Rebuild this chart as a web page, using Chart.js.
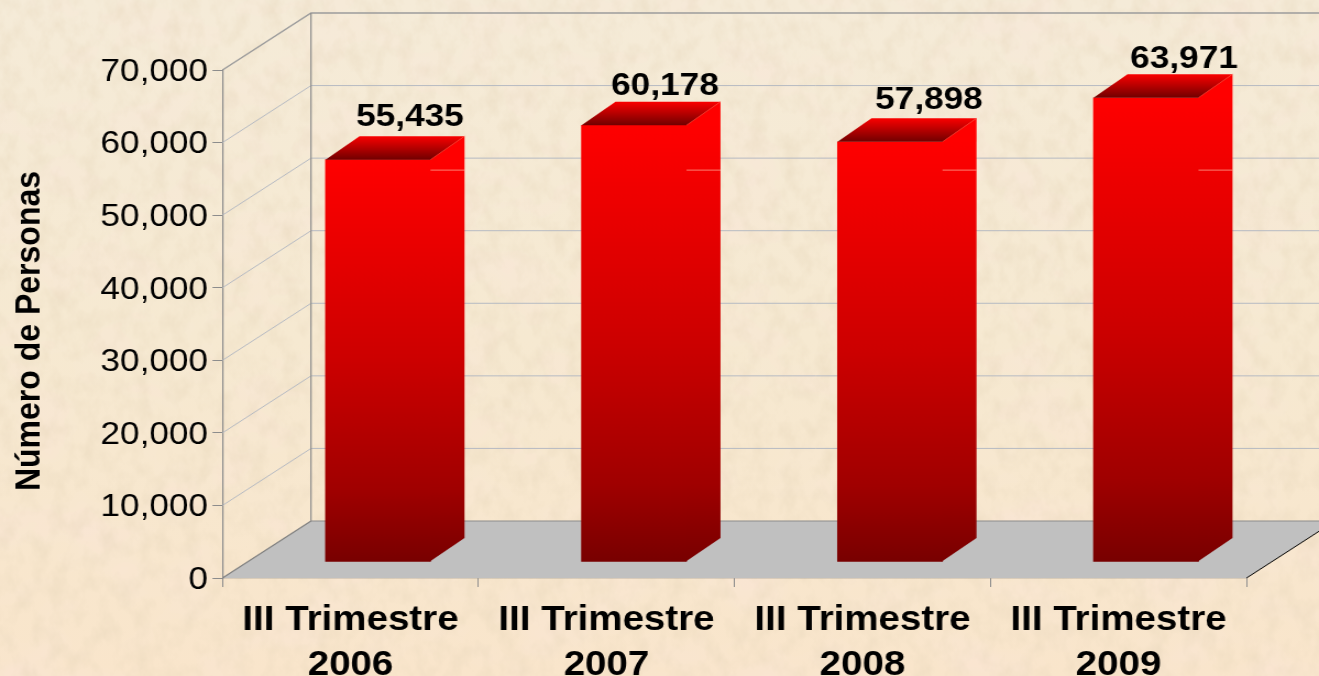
<!DOCTYPE html>
<html>
<head>
<meta charset="utf-8">
<title>Número de Personas</title>
<script src="https://cdn.jsdelivr.net/npm/chart.js@4"></script>
<style>
  html, body { margin: 0; padding: 0; width: 1319px; height: 676px; overflow: hidden; }
  /* the source picture is a stretched slide, so the whole canvas is stretched too */
  #chart { position: absolute; left: 0; top: 0; transform-origin: 0 0; transform: scaleX(1.10008); }
</style>
</head>
<body>
<canvas id="chart" width="1199" height="676"></canvas>
<script>
const categories = [['III Trimestre', '2006'], ['III Trimestre', '2007'], ['III Trimestre', '2008'], ['III Trimestre', '2009']]
const personas = [55435, 60178, 57898, 63971]
const yTicks = [0, 10000, 20000, 30000, 40000, 50000, 60000, 70000]

const STRETCH = 1319 / 1199
const px = v => v / STRETCH // screen px to canvas px, x direction only
const FONT = '"Liberation Sans", Arial, sans-serif'

// 3d offsets
const wall = { dx: px(88.5), dy: 57 }
const barShift = { dx: px(27.5), dy: 16 }
const barDepth = { dx: px(34), dy: 23.5 }
const labelNudge = [
  { dx: px(32), dy: 10 },
  { dx: px(31), dy: 7 },
  { dx: px(39), dy: 9 },
  { dx: px(38), dy: 6 }
]

// paper background
const paper = `<svg xmlns="http://www.w3.org/2000/svg" width="1319" height="676">
<defs><linearGradient id="g" x1="0" y1="0" x2="0" y2="1"><stop offset="0" stop-color="#f5ebd8"/><stop offset=".5" stop-color="#f6e9d1"/><stop offset="1" stop-color="#f9e5cb"/></linearGradient>
<filter id="n" x="0" y="0" width="100%" height="100%"><feTurbulence type="fractalNoise" baseFrequency=".06 .045" numOctaves="4" seed="7"/><feColorMatrix values="0 0 0 0 .78  0 0 0 0 .66  0 0 0 0 .48  .8 0 0 0 -.32"/></filter>
<filter id="p" x="0" y="0" width="100%" height="100%"><feTurbulence type="fractalNoise" baseFrequency=".014 .02" numOctaves="3" seed="21"/><feColorMatrix values="0 0 0 0 .96  0 0 0 0 .78  0 0 0 0 .7  0 1 0 0 -.46"/></filter></defs>
<rect width="1319" height="676" fill="url(#g)"/><rect width="1319" height="676" filter="url(#p)"/><rect width="1319" height="676" filter="url(#n)"/></svg>`
document.body.style.background = 'url("data:image/svg+xml,' + encodeURIComponent(paper) + '") 0 0 no-repeat'

function poly(ctx, pts, fill, stroke, lw) {
  ctx.beginPath()
  pts.forEach((p, i) => i ? ctx.lineTo(p[0], p[1]) : ctx.moveTo(p[0], p[1]))
  if (fill) { ctx.closePath(); ctx.fillStyle = fill; ctx.fill() }
  if (stroke) { ctx.strokeStyle = stroke; ctx.lineWidth = lw || 1; ctx.stroke() }
}

function redGradient(ctx, top, bottom) {
  const g = ctx.createLinearGradient(0, top, 0, bottom)
  g.addColorStop(0, '#ff0000')
  g.addColorStop(0.5, '#cc0000')
  g.addColorStop(0.82, '#a00000')
  g.addColorStop(1, '#780000')
  return g
}

// moves one part of a scale by a few px when it is drawn
function nudge(chart, scale, method, dy) {
  const orig = scale[method]
  if (orig.nudged) return
  scale[method] = function (...args) {
    chart.ctx.save()
    chart.ctx.translate(0, dy)
    orig.apply(this, args)
    chart.ctx.restore()
  }
  scale[method].nudged = true
}

const depth3d = {
  id: 'depth3d',
  beforeDraw(chart) {
    // the source has the title below the axis centre and the numbers a bit low
    nudge(chart, chart.scales.y, 'drawTitle', 7)
    nudge(chart, chart.scales.y, 'drawLabels', 2)
  },
  beforeDatasetsDraw(chart) {
    const { ctx, chartArea: a, scales: { y } } = chart
    ctx.save()
    // floor
    poly(ctx, [[a.left, a.bottom], [a.left + wall.dx, a.bottom - wall.dy], [a.right + wall.dx, a.bottom - wall.dy], [a.right, a.bottom]], '#c0c0c0')
    // grid on side wall and back wall
    yTicks.slice(1, -1).forEach(v => {
      const py = y.getPixelForValue(v)
      poly(ctx, [[a.left, py], [a.left + wall.dx, py - wall.dy], [a.right + wall.dx, py - wall.dy]], null, '#b6bac2', 1)
    })
    poly(ctx, [[a.left, a.top], [a.left + wall.dx, a.top - wall.dy], [a.right + wall.dx, a.top - wall.dy]], null, '#9c9c9c', 1.5)
    poly(ctx, [[a.left + wall.dx, a.top - wall.dy], [a.left + wall.dx, a.bottom - wall.dy], [a.right + wall.dx, a.bottom - wall.dy]], null, '#8c8c8c', 1.2)
    poly(ctx, [[a.left, a.bottom], [a.left + wall.dx, a.bottom - wall.dy]], null, '#808080', 1.2)
    poly(ctx, [[a.right, a.bottom], [a.right + wall.dx, a.bottom - wall.dy]], null, '#000000', 1)
    ctx.restore()
  },
  beforeDatasetDraw(chart) {
    const { ctx } = chart
    ctx.save()
    ctx.translate(barShift.dx, -barShift.dy)
  },
  afterDatasetDraw(chart, args) {
    const { ctx, scales: { y } } = chart
    const d = barDepth
    args.meta.data.forEach(bar => {
      const p = bar.getProps(['x', 'y', 'base', 'width'], true)
      const l = p.x - p.width / 2, r = p.x + p.width / 2
      // side face, overlaps the front by a hair so no seam shows
      poly(ctx, [[r - 0.6, p.y], [r + d.dx, p.y - d.dy], [r + d.dx, p.base - d.dy], [r - 0.6, p.base]], redGradient(ctx, p.y, p.base))
      // grid line that shows through the side, as in the source
      const gy = y.getPixelForValue(54000)
      poly(ctx, [[r, gy], [r + d.dx, gy]], null, 'rgba(255,170,150,0.75)', 1)
      // top face
      const g = ctx.createLinearGradient(0, p.y - d.dy, 0, p.y)
      g.addColorStop(0, '#fa0000')
      g.addColorStop(1, '#700000')
      poly(ctx, [[l, p.y], [l + d.dx, p.y - d.dy], [r + d.dx, p.y - d.dy], [r, p.y]], g)
      poly(ctx, [[r, p.y], [r + d.dx, p.y - d.dy]], null, '#ff3a2a', 0.7)
    })
    ctx.restore()
    // value labels
    ctx.save()
    ctx.font = 'bold 32px ' + FONT
    ctx.fillStyle = '#000'
    ctx.textAlign = 'center'
    ctx.textBaseline = 'alphabetic'
    args.meta.data.forEach((bar, i) => {
      const n = labelNudge[i]
      ctx.fillText(personas[i].toLocaleString('en-US'), bar.x + barShift.dx + n.dx, bar.y - barShift.dy - barDepth.dy - n.dy)
    })
    ctx.restore()
  }
}

new Chart(document.getElementById('chart').getContext('2d'), {
  type: 'bar',
  data: {
    labels: categories,
    datasets: [{
      data: personas,
      barThickness: px(105),
      borderWidth: 0,
      clip: false,
      backgroundColor(c) {
        if (!c.chart.chartArea || c.parsed === undefined) return '#ff0000'
        const y = c.chart.scales.y
        return redGradient(c.chart.ctx, y.getPixelForValue(c.parsed.y), y.getPixelForValue(0))
      }
    }]
  },
  options: {
    responsive: false,
    animation: false,
    layout: { padding: { top: 70, right: px(1319 - 1246.5) } },
    plugins: { legend: { display: false }, tooltip: { enabled: false } },
    scales: {
      x: {
        afterFit(s) { s.height = 98 },
        border: { color: '#808080', width: 1.2 },
        grid: { drawOnChartArea: false, color: '#8c8c8c', tickLength: 9 },
        ticks: {
          color: '#000',
          padding: 10,
          maxRotation: 0,
          autoSkip: false,
          font: { family: FONT, size: 35, weight: 'bold', lineHeight: 1.31 }
        }
      },
      y: {
        min: 0,
        max: 70000,
        afterFit(s) { s.width = px(222.5) },
        border: { color: '#8c8c8c', width: 1.2 },
        grid: { drawOnChartArea: false, color: '#8c8c8c', tickLength: px(10) },
        title: {
          display: true,
          text: 'Número de Personas',
          color: '#000',
          padding: { top: 8, bottom: 0 },
          font: { family: FONT, size: 32, weight: 'bold' }
        },
        ticks: {
          color: '#000',
          stepSize: 10000,
          padding: 4,
          callback: v => v.toLocaleString('en-US'),
          font: { family: FONT, size: 32 }
        }
      }
    }
  },
  plugins: [depth3d]
})
</script>
</body>
</html>
